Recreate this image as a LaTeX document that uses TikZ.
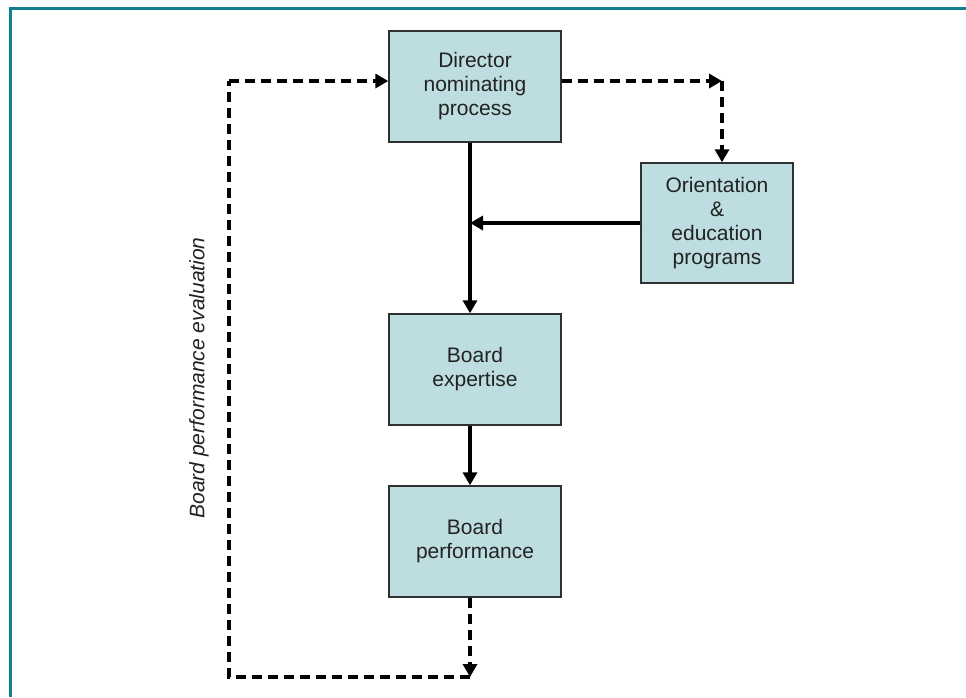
\documentclass[tikz,border=0pt]{standalone}
\usepackage{fontspec}
\setmainfont{Liberation Sans}
\usetikzlibrary{arrows.meta}
\definecolor{frameteal}{HTML}{0F808C}
\definecolor{boxfill}{HTML}{BDDDE1}
\definecolor{boxline}{HTML}{303030}
\definecolor{inktext}{HTML}{222222}
\tikzset{
  stepbox/.style={draw=boxline, line width=1.4pt, fill=boxfill,
    minimum width=172pt, minimum height=111pt, inner sep=0pt,
    align=center, text=inktext, font=\fontsize{21}{24}\selectfont},
  sidebox/.style={stepbox, minimum width=152pt, minimum height=120pt},
  flow/.style={line width=4pt, -{Triangle[length=13pt,width=14pt]}},
  loop/.style={line width=3.6pt, dash pattern=on 10pt off 6pt},
  looparrow/.style={loop, -{Triangle[length=13pt,width=14pt]}},
}
\begin{document}
\begin{tikzpicture}[x=1pt, y=-1pt]
\useasboundingbox (0,0) rectangle (966,697);
% outer frame, open to the right and bottom
\draw[frameteal, line width=3pt] (10.5,697) -- (10.5,8.5) -- (966,8.5);

% boxes
\node[stepbox] (dir)  at (475,86.5)  {Director\\nominating\\process};
\node[sidebox] (ori)  at (717,223)   {Orientation\\\&\\education\\programs};
\node[stepbox] (exp)  at (475,369.5) {Board\\expertise};
\node[stepbox] (perf) at (475,541.5) {Board\\performance};

% helper coordinates
\coordinate (vx)    at (470,0);
\coordinate (ytop)  at (0,81);
\coordinate (ojoin) at (470,223);
\coordinate (cnr)   at (722,81);
\coordinate (pbot)  at (470,677);
\coordinate (lbot)  at (229,677);
\coordinate (ltop)  at (229,81);

% solid flow
\draw[flow] (dir.south -| vx) -- (exp.north -| vx);
\draw[flow] (ori.west |- ojoin) -- (ojoin);
\draw[flow] (exp.south -| vx) -- (perf.north -| vx);

% dashed links
\draw[looparrow] (dir.east |- ytop) -- (cnr);
\draw[looparrow] (cnr) -- (ori.north -| cnr);
\draw[looparrow] (perf.south -| vx) -- (pbot);
\draw[loop] (pbot) -- (lbot) -- (ltop);
\draw[looparrow] (ltop) -- (dir.west |- ytop);

% feedback label
\node[rotate=90, text=inktext, font=\fontsize{21}{24}\selectfont\itshape] (lbl) at (199,378) {Board performance evaluation};
\end{tikzpicture}
\end{document}
